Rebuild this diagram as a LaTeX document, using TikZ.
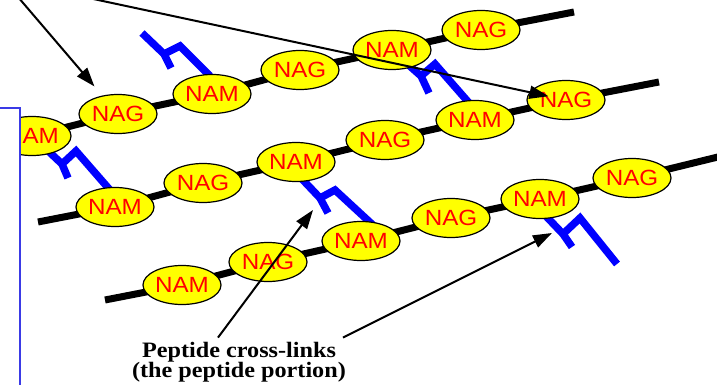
\documentclass[tikz,border=0pt]{standalone}
\usepackage{fontspec}
\setmainfont{Liberation Serif}
\newfontfamily\sugarfont[FakeStretch=1.1]{Liberation Sans}
\newfontfamily\notefont[FakeStretch=1.1]{Liberation Serif}
\usetikzlibrary{arrows.meta,backgrounds,shapes.geometric}
\definecolor{sugarfill}{HTML}{FFFF00}
\definecolor{sugartext}{HTML}{FF0000}
\definecolor{peptideblue}{HTML}{0000FF}
\definecolor{panelblue}{HTML}{3A3AE6}
\tikzset{
  sugar/.style={
    ellipse,
    draw=black,
    line width=1.2pt,
    fill=sugarfill,
    text=sugartext,
    minimum width=78pt,
    minimum height=39pt,
    inner sep=0pt,
    font=\sugarfont\fontsize{22}{22}\selectfont
  },
  glycan/.style={
    draw=black,
    line width=7pt
  },
  peptide/.style={
    draw=peptideblue,
    line width=7.5pt
  },
  pointer/.style={
    -{Triangle[length=19pt,width=13pt]},
    draw=black,
    line width=2pt
  },
  note/.style={
    font=\notefont\bfseries\fontsize{22}{20.5}\selectfont,
    align=center,
    inner sep=0pt
  },
  panel/.style={
    draw=panelblue,
    line width=1.3pt,
    fill=white
  }
}

\begin{document}
\begin{tikzpicture}[x=1pt, y=-1pt]
  \useasboundingbox (0,0) rectangle (717,385);

  % upper strand
  \node[sugar] (a1) at (32,136) {NAM};
  \node[sugar] (a2) at (118,114) {NAG};
  \node[sugar] (a3) at (212,94) {NAM};
  \node[sugar] (a4) at (300,70) {NAG};
  \node[sugar] (a5) at (392,50) {NAM};
  \node[sugar] (a6) at (481,30) {NAG};

  % middle strand
  \node[sugar] (b1) at (115,207) {NAM};
  \node[sugar] (b2) at (203,183) {NAG};
  \node[sugar] (b3) at (296,162) {NAM};
  \node[sugar] (b4) at (385,140) {NAG};
  \node[sugar] (b5) at (475,120) {NAM};
  \node[sugar] (b6) at (566,100) {NAG};

  % lower strand
  \node[sugar] (c1) at (182,285) {NAM};
  \node[sugar] (c2) at (268,262) {NAG};
  \node[sugar] (c3) at (361,241) {NAM};
  \node[sugar] (c4) at (451,218) {NAG};
  \node[sugar] (c5) at (540,199) {NAM};
  \node[sugar] (c6) at (632,178) {NAG};

  \begin{scope}[on background layer]
    \draw[glycan] (-4,145) -- (a1.center) -- (a2.center) -- (a3.center) -- (a4.center)
      -- (a5.center) -- (a6.center) -- (574,12);
    \draw[glycan] (38,222) -- (b1.center) -- (b2.center) -- (b3.center) -- (b4.center)
      -- (b5.center) -- (b6.center) -- (659,82);
    \draw[glycan] (105,300) -- (c1.center) -- (c2.center) -- (c3.center) -- (c4.center)
      -- (c5.center) -- (c6.center) -- (722,156);

    % peptide bridges between the strands
    \draw[peptide] (142,33) -- (164,54) -- (171,68) (164,54) -- (180,46) -- (210,76);
    \draw[peptide] (44,147) -- (62,164) -- (68,178) (62,164) -- (76,151) -- (110,190);
    \draw[peptide] (403,60) -- (421,76) -- (429,93) (421,76) -- (435,64) -- (470,104);
    \draw[peptide] (302,179) -- (320,198) -- (328,213) (320,198) -- (335,190) -- (374,226);
    \draw[peptide] (543,213) -- (563,234) -- (572,247) (563,234) -- (580,218) -- (617,264);
  \end{scope}

  % frame on the left edge
  \draw[panel] (-3,108) rectangle (20,390);

  \node[note] (pep) at (239,362) {Peptide cross-links\\(the peptide portion)};

  \coordinate (src1) at (18,-3);
  \coordinate (src2) at (84,-3);
  \coordinate (hit4) at (313,210);
  \coordinate (hit5) at (552,233);

  \draw[pointer, shorten >=12pt] (src1) -- (a2);
  \draw[pointer, shorten >=18pt] (src2) -- (b6.center);
  \draw[pointer] ([xshift=-21pt,yshift=4pt]pep.north) -- (hit4);
  \draw[pointer] ([xshift=104pt,yshift=4pt]pep.north) -- (hit5);
\end{tikzpicture}
\end{document}
